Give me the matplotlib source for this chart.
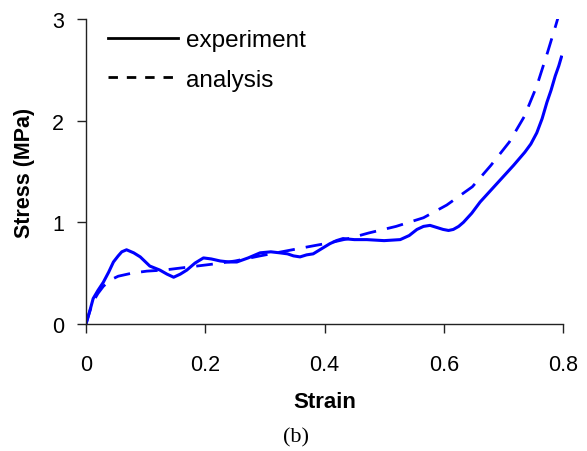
import matplotlib
matplotlib.use("Agg")
import matplotlib.pyplot as plt
from matplotlib.lines import Line2D

# experiment (solid) curve
exp_strain = [0.0, 0.006, 0.012, 0.02, 0.029, 0.038, 0.046, 0.054, 0.06, 0.068, 0.08, 0.091,
              0.107, 0.124, 0.136, 0.147, 0.158, 0.169, 0.183, 0.197, 0.21, 0.225, 0.24,
              0.253, 0.272, 0.292, 0.31, 0.325, 0.338, 0.348, 0.359, 0.37, 0.381, 0.395,
              0.409, 0.42, 0.431, 0.45, 0.471, 0.5, 0.527, 0.542, 0.555, 0.566, 0.577,
              0.588, 0.599, 0.608, 0.616, 0.625, 0.633, 0.647, 0.661, 0.675, 0.689, 0.703,
              0.717, 0.736, 0.746, 0.756, 0.765, 0.773, 0.78, 0.787, 0.793, 0.798]
exp_stress = [0.0, 0.12, 0.25, 0.33, 0.41, 0.51, 0.61, 0.67, 0.71, 0.73, 0.70, 0.66,
              0.57, 0.53, 0.49, 0.46, 0.49, 0.53, 0.6, 0.65, 0.64, 0.62, 0.61,
              0.61, 0.65, 0.70, 0.71, 0.70, 0.69, 0.67, 0.66, 0.68, 0.69, 0.74,
              0.79, 0.82, 0.84, 0.83, 0.83, 0.82, 0.83, 0.87, 0.93, 0.96, 0.97,
              0.95, 0.93, 0.92, 0.93, 0.96, 1.0, 1.09, 1.2, 1.29, 1.38, 1.47,
              1.56, 1.69, 1.77, 1.88, 2.02, 2.18, 2.3, 2.44, 2.54, 2.64]

# analysis (dashed) curve
ana_strain = [0.0, 0.006, 0.012, 0.02, 0.029, 0.04, 0.054, 0.077, 0.102, 0.13, 0.158,
              0.186, 0.214, 0.25, 0.292, 0.337, 0.373, 0.41, 0.44, 0.474, 0.52, 0.566,
              0.605, 0.648, 0.679, 0.71, 0.735, 0.756, 0.774, 0.788, 0.792]
ana_stress = [0.0, 0.12, 0.22, 0.3, 0.37, 0.43, 0.47, 0.50, 0.52, 0.53, 0.55,
              0.57, 0.59, 0.62, 0.67, 0.72, 0.76, 0.8, 0.84, 0.895, 0.96, 1.045,
              1.17, 1.35, 1.56, 1.79, 2.04, 2.34, 2.67, 2.94, 3.02]

x_ticks = [0, 0.2, 0.4, 0.6, 0.8]
x_tick_labels = ["0", "0.2", "0.4", "0.6", "0.8"]
y_ticks = [0, 1, 2, 3]
legend_labels = ["experiment", "analysis"]

blue = "#0000ff"
plt.rcParams["font.family"] = ["Liberation Sans", "DejaVu Sans"]

fig = plt.figure(figsize=(5.87, 4.52), dpi=100)
ax = fig.add_axes([86 / 587, 1 - 325 / 452, 477 / 587, 305 / 452])

ax.plot(exp_strain, exp_stress, color=blue, lw=2.2, solid_capstyle="butt")
ax.plot(ana_strain, ana_stress, color=blue, lw=2.0, dashes=(6, 4))

ax.set_xlim(0, 0.8)
ax.set_ylim(0, 3)
ax.set_xticks(x_ticks)
ax.set_xticklabels(x_tick_labels)
ax.set_yticks(y_ticks)
for s in ["top", "right"]:
    ax.spines[s].set_visible(False)
for s in ["left", "bottom"]:
    ax.spines[s].set_color("#222222")
    ax.spines[s].set_linewidth(1.0)
ax.tick_params(direction="out", length=6.5, width=1.0, color="#222222", labelsize=15.5)
ax.tick_params(axis="x", pad=15)
ax.tick_params(axis="y", pad=9.5)

ax.set_xlabel("Strain", fontsize=16, fontweight="bold")
ax.set_ylabel("Stress (MPa)", fontsize=15.5, fontweight="bold")
ax.xaxis.label.set_va("center")
ax.yaxis.label.set_va("center")
ax.xaxis.set_label_coords(0.5, (325 - 403) / 305)
ax.yaxis.set_label_coords((25 - 86) / 477, 0.5)

handles = [Line2D([], [], color="black", lw=2.0),
           Line2D([], [], color="black", lw=2.0, dashes=(3.4, 3.2))]
ax.legend(handles, legend_labels, loc="upper left",
          bbox_to_anchor=(108 / 587, 1 - 30 / 452), bbox_transform=fig.transFigure,
          frameon=False, fontsize=17.5, handlelength=2.9, handletextpad=0.3,
          labelspacing=0.72, borderaxespad=0, borderpad=0.0)

fig.text(296 / 587, 1 - 438 / 452, "(b)", family="Liberation Serif", fontsize=16,
         ha="center", va="center")

fig.savefig("out.png", dpi=100)
